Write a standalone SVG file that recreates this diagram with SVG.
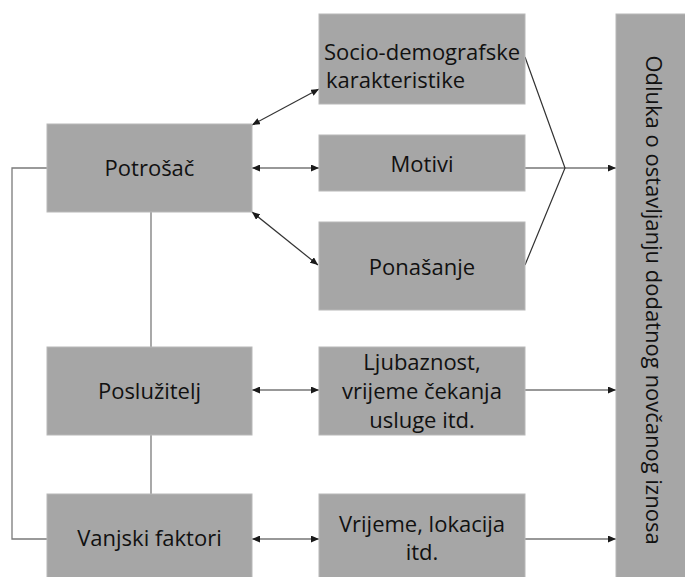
<svg xmlns="http://www.w3.org/2000/svg" width="685" height="577" viewBox="0 0 685 577">
<style>
.box{fill:#a6a6a6;stroke:#b8b8b8;stroke-width:1}
.t{font-family:"Open Sans","Liberation Sans",sans-serif;font-size:22px;fill:#111;text-anchor:middle}
.ls{text-anchor:start}
.ln{fill:none;stroke:#7a7a7a;stroke-width:1.3}
.ar{fill:none;stroke:#333;stroke-width:1.2}
</style>
<defs>
<marker id="ah" viewBox="0 0 8 7" refX="8" refY="3.5" markerWidth="8" markerHeight="7" markerUnits="userSpaceOnUse" orient="auto-start-reverse">
<path d="M0,0 L8,3.5 L0,7 z" fill="#1a1a1a"/>
</marker>
</defs>
<rect width="685" height="577" fill="#fff"/>
<g id="connectors">
<path class="ln" d="M47,168 H12 V539 H47"/>
<path class="ln" d="M151,212 V347"/>
<path class="ln" d="M151,435 V494"/>
<path class="ar" d="M252,125 L319,89" marker-start="url(#ah)" marker-end="url(#ah)"/>
<path class="ar" d="M252,168 H319" marker-start="url(#ah)" marker-end="url(#ah)"/>
<path class="ar" d="M252,212 L318,265" marker-start="url(#ah)" marker-end="url(#ah)"/>
<path class="ar" d="M252,390 H319" marker-start="url(#ah)" marker-end="url(#ah)"/>
<path class="ar" d="M252,539 H319" marker-start="url(#ah)" marker-end="url(#ah)"/>
<path class="ar" d="M525,57 L565,168 L525,265"/>
<path class="ar" d="M525,168 H616" marker-end="url(#ah)"/>
<path class="ar" d="M525,390 H616" marker-end="url(#ah)"/>
<path class="ar" d="M525,539 H616" marker-end="url(#ah)"/>
</g>
<g id="potrosac"><rect class="box" x="47" y="124" width="205" height="88"/><text class="t" x="149.5" y="176">Potrošač</text></g>
<g id="posluzitelj"><rect class="box" x="47" y="347" width="205" height="88"/><text class="t" x="149.5" y="399">Poslužitelj</text></g>
<g id="vanjski"><rect class="box" x="47" y="494" width="205" height="90"/><text class="t" x="149.5" y="546">Vanjski faktori</text></g>
<g id="socio"><rect class="box" x="319" y="14" width="206" height="90"/><text class="t ls" x="324" y="60">Socio-demografske</text><text class="t ls" x="326" y="88">karakteristike</text></g>
<g id="motivi"><rect class="box" x="319" y="135" width="206" height="56"/><text class="t" x="422" y="172">Motivi</text></g>
<g id="ponasanje"><rect class="box" x="319" y="222" width="206" height="88"/><text class="t" x="422" y="275">Ponašanje</text></g>
<g id="ljubaznost"><rect class="box" x="319" y="347" width="206" height="88"/><text class="t" x="422" y="370">Ljubaznost,</text><text class="t" x="422" y="399">vrijeme čekanja</text><text class="t" x="422" y="428">usluge itd.</text></g>
<g id="vrijeme"><rect class="box" x="319" y="494" width="206" height="90"/><text class="t" x="422" y="532">Vrijeme, lokacija</text><text class="t" x="422" y="560">itd.</text></g>
<g id="odluka"><rect class="box" x="616" y="14" width="75" height="570"/><text class="t" transform="translate(646,300) rotate(90)" x="0" y="0">Odluka o ostavljanju dodatnog novčanog iznosa</text></g>
</svg>
